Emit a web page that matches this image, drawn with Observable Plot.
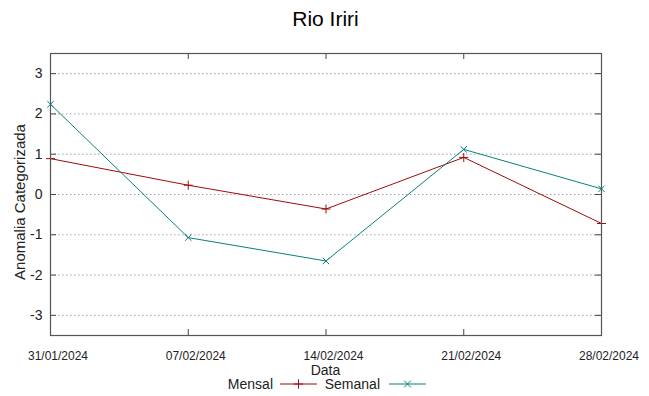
<!DOCTYPE html>
<html>
<head>
<meta charset="utf-8">
<script src="https://cdn.jsdelivr.net/npm/d3@7"></script>
<script src="https://cdn.jsdelivr.net/npm/@observablehq/plot@0.6"></script>
<style>
  html, body { margin: 0; padding: 0; background: #fff; }
</style>
</head>
<body>
<div id="chart"></div>
<script>
const dates = ["2024-01-31", "2024-02-07", "2024-02-14", "2024-02-21", "2024-02-28"];
const mensal = [0.89, 0.23, -0.36, 0.92, -0.72];
const semanal = [2.24, -1.07, -1.65, 1.12, 0.14];
const yTicks = [-3, -2, -1, 0, 1, 2, 3];
const seriesNames = ["Mensal", "Semanal"];
const seriesColors = ["#a00a0a", "#0a8080"];
const seriesSymbols = ["plus", "times"];

const parse = d3.utcParse("%Y-%m-%d");
const xTicks = dates.map(parse);
const rows = [];
dates.forEach((d, i) => {
  rows.push({date: parse(d), value: mensal[i], serie: "Mensal"});
  rows.push({date: parse(d), value: semanal[i], serie: "Semanal"});
});

const W = 649, H = 396;
const mL = 50, mR = 48, mT = 53, mB = 61;
const frameW = W - mL - mR, frameH = H - mT - mB;
const tickLen = 6;

const chart = Plot.plot({
  width: W,
  height: H,
  marginLeft: mL,
  marginRight: mR,
  marginTop: mT,
  marginBottom: mB,
  style: {fontFamily: "'Liberation Sans', Arial, sans-serif", background: "#fff", color: "#222"},
  x: {type: "utc", domain: [xTicks[0], xTicks[xTicks.length - 1]]},
  y: {domain: [-3.5, 3.5]},
  color: {domain: seriesNames, range: seriesColors},
  symbol: {domain: seriesNames, range: seriesSymbols},
  marks: [
    Plot.gridY(yTicks, {stroke: "#a0a0a0", strokeOpacity: 1, strokeDasharray: "1.5,2.5"}),
    Plot.tickX(xTicks, {x: d => d, insetTop: frameH - tickLen, stroke: "#444"}),
    Plot.tickX(xTicks, {x: d => d, insetBottom: frameH - tickLen, stroke: "#444"}),
    Plot.tickY(yTicks, {y: d => d, insetRight: frameW - tickLen, stroke: "#444"}),
    Plot.tickY(yTicks, {y: d => d, insetLeft: frameW - tickLen, stroke: "#444"}),
    Plot.line(rows, {x: "date", y: "value", z: "serie", stroke: "serie", strokeWidth: 1}),
    Plot.dot(rows, {x: "date", y: "value", stroke: "serie", symbol: "serie", r: 3, strokeWidth: 1, fill: "none"}),
    Plot.frame({stroke: "#555", strokeWidth: 1.2}),
    Plot.axisY(yTicks, {tickSize: 0, tickPadding: 8, fontSize: 14, label: null, tickFormat: d => String(d)}),
    Plot.axisX(xTicks, {tickSize: 0, tickPadding: 16, dx: 7.5, fontSize: 12, label: null, tickFormat: d3.utcFormat("%d/%m/%Y")}),
    Plot.text(["Rio Iriri"], {frameAnchor: "top", dy: -34.5, dx: -0.5, fontSize: 21, textAnchor: "middle", lineAnchor: "middle", text: d => d, fill: "#000"}),
    Plot.text(["Anomalia Categorizada"], {frameAnchor: "left", dx: -30, dy: 7.5, rotate: -90, fontSize: 15, textAnchor: "middle", lineAnchor: "middle", text: d => d, fill: "#222"}),
    Plot.text(["Data"], {frameAnchor: "bottom", dy: 35, dx: -0.5, fontSize: 14, textAnchor: "middle", lineAnchor: "middle", text: d => d, fill: "#222"})
  ]
});

// legend
const svg = d3.select(chart);
const legend = [
  {name: "Mensal", textEnd: 273, x1: 280, x2: 317},
  {name: "Semanal", textEnd: 380, x1: 389, x2: 426}
];
const ly = 384;
legend.forEach((l, i) => {
  const g = svg.append("g");
  g.append("text").attr("x", l.textEnd).attr("y", ly).attr("dy", "0.35em")
    .attr("text-anchor", "end").attr("font-size", 14).attr("fill", "#222").text(l.name);
  g.append("line").attr("x1", l.x1).attr("x2", l.x2).attr("y1", ly).attr("y2", ly)
    .attr("stroke", seriesColors[i]).attr("stroke-width", 1);
  const cx = (l.x1 + l.x2) / 2;
  const sym = d3.symbol(i === 0 ? d3.symbolPlus : d3.symbolTimes, 30);
  g.append("path").attr("d", sym()).attr("transform", `translate(${cx},${ly})`)
    .attr("fill", "none").attr("stroke", seriesColors[i]).attr("stroke-width", 1);
});

document.getElementById("chart").appendChild(chart);
</script>
</body>
</html>
